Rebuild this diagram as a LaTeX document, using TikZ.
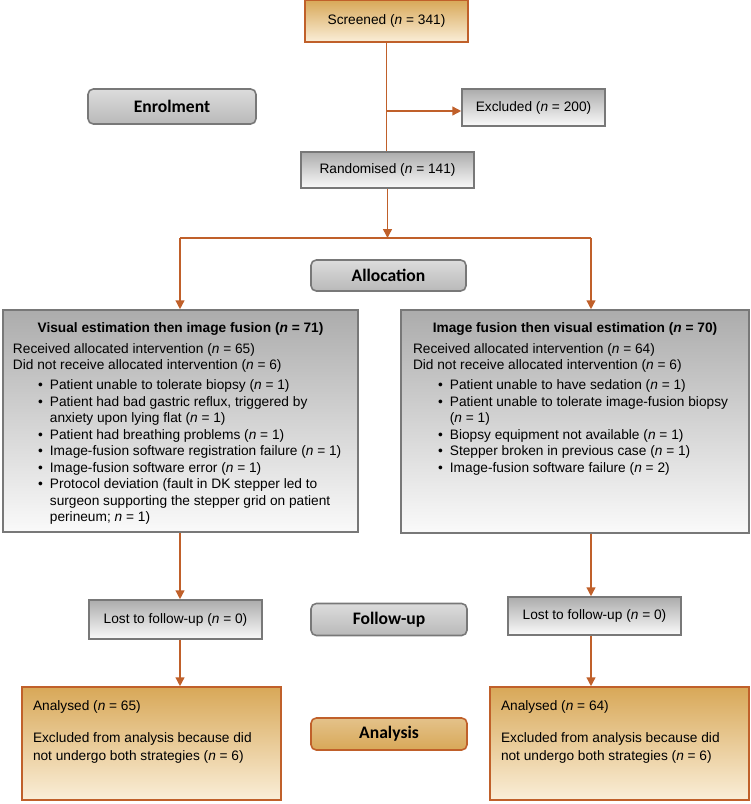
\documentclass[tikz,border=0pt]{standalone}
\usepackage{fontspec}
\setmainfont{Liberation Sans}
\newfontfamily\stagefont{Carlito}
\usetikzlibrary{arrows.meta}

\definecolor{rust}{RGB}{192,96,42}
\definecolor{graytop}{RGB}{172,172,172}
\definecolor{graybot}{RGB}{250,250,250}
\definecolor{grayline}{RGB}{120,120,120}
\definecolor{ambertop}{RGB}{216,168,88}
\definecolor{amberbot}{RGB}{250,238,216}
\definecolor{stagetop}{RGB}{220,220,220}
\definecolor{stagebot}{RGB}{185,185,185}

\newcommand{\nn}{\textit{n}}

\tikzset{
  graybox/.style={draw=grayline, line width=0.9pt, top color=graytop, bottom color=graybot,
                  inner sep=0pt, align=center, font=\fontsize{7.8}{9.4}\selectfont},
  amberbox/.style={draw=rust, line width=0.9pt, top color=ambertop, bottom color=amberbot,
                   inner sep=0pt, align=center, font=\fontsize{7.8}{9.4}\selectfont},
  stagebox/.style={draw=grayline, line width=0.9pt, rounded corners=3pt, top color=stagetop,
                   bottom color=stagebot, minimum width=3.12cm, minimum height=0.64cm,
                   font=\stagefont\bfseries\fontsize{10}{12}\selectfont},
  link/.style={draw=rust, line width=0.8pt},
  arr/.style={link, -{Triangle[length=5pt,width=5pt]}},
}

\begin{document}
\begin{tikzpicture}
    \useasboundingbox (0,0) rectangle (15,-16.08);

    % Enrolment
    \node [amberbox, minimum width=3.26cm, minimum height=0.84cm]
          (screened) at (7.73,-0.42) {Screened (\nn{} = 341)};
    \node [stagebox, minimum width=3.36cm, minimum height=0.70cm]
          (enrol) at (3.44,-2.13) {Enrolment};
    \node [graybox, minimum width=2.86cm, minimum height=0.74cm]
          (excluded) at (10.67,-2.15) {Excluded (\nn{} = 200)};
    \node [graybox, minimum width=3.46cm, minimum height=0.72cm]
          (random) at (7.75,-3.40) {Randomised (\nn{} = 141)};

    % Allocation
    \node [stagebox, minimum width=3.10cm, minimum height=0.62cm]
          (alloc) at (7.77,-5.51) {Allocation};
    \node [graybox, minimum width=7.10cm, minimum height=4.44cm] (visual) at (3.61,-8.42) {%
      \parbox[t][4.44cm][t]{6.70cm}{\vspace*{7pt}%
        {\centering\textbf{Visual estimation then image fusion (\nn{} = 71)}\par}
        \vspace{2.5pt}\raggedright
        Received allocated intervention (\nn{} = 65)\par
        Did not receive allocated intervention (\nn{} = 6)\par
        \begin{list}{\textbullet}{\leftmargin=21pt \labelsep=4pt \topsep=2pt
                                  \itemsep=0pt \parsep=0pt \partopsep=0pt}
          \item Patient unable to tolerate biopsy (\nn{} = 1)
          \item Patient had bad gastric reflux, triggered by anxiety upon lying flat (\nn{} = 1)
          \item Patient had breathing problems (\nn{} = 1)
          \item Image-fusion software registration failure (\nn{} = 1)
          \item Image-fusion software error (\nn{} = 1)
          \item Protocol deviation (fault in DK stepper led to surgeon supporting the stepper grid on patient perineum; \nn{} = 1)
        \end{list}}};
    \node [graybox, minimum width=6.96cm, minimum height=4.46cm] (fusion) at (11.50,-8.43) {%
      \parbox[t][4.46cm][t]{6.48cm}{\vspace*{7pt}%
        {\centering\textbf{Image fusion then visual estimation (\nn{} = 70)}\par}
        \vspace{2.5pt}\raggedright
        Received allocated intervention (\nn{} = 64)\par
        Did not receive allocated intervention (\nn{} = 6)\par
        \begin{list}{\textbullet}{\leftmargin=21pt \labelsep=4pt \topsep=2pt
                                  \itemsep=0pt \parsep=0pt \partopsep=0pt}
          \item Patient unable to have sedation (\nn{} = 1)
          \item Patient unable to tolerate image-fusion biopsy (\nn{} = 1)
          \item Biopsy equipment not available (\nn{} = 1)
          \item Stepper broken in previous case (\nn{} = 1)
          \item Image-fusion software failure (\nn{} = 2)
        \end{list}}};

    % Follow-up
    \node [graybox, minimum width=3.46cm, minimum height=0.78cm]
          (lostL) at (3.51,-12.39) {Lost to follow-up (\nn{} = 0)};
    \node [stagebox] (follow) at (7.78,-12.39) {Follow-up};
    \node [graybox, minimum width=3.46cm, minimum height=0.76cm]
          (lostR) at (11.89,-12.32) {Lost to follow-up (\nn{} = 0)};

    % Analysis
    \node [amberbox, minimum width=5.18cm, minimum height=2.26cm] (anaL) at (3.03,-14.87) {%
      \parbox[t][2.26cm][t]{4.74cm}{\fontsize{7.8}{10.2}\selectfont\vspace*{8pt}\raggedright
        Analysed (\nn{} = 65)\par\vspace{8pt}
        Excluded from analysis because did\newline
        not undergo both strategies (\nn{} = 6)}};
    \node [stagebox, draw=rust, top color=ambertop!70!white, bottom color=ambertop]
          (analysis) at (7.78,-14.68) {Analysis};
    \node [amberbox, minimum width=5.18cm, minimum height=2.26cm] (anaR) at (12.39,-14.87) {%
      \parbox[t][2.26cm][t]{4.74cm}{\fontsize{7.8}{10.2}\selectfont\vspace*{8pt}\raggedright
        Analysed (\nn{} = 64)\par\vspace{8pt}
        Excluded from analysis because did\newline
        not undergo both strategies (\nn{} = 6)}};

    % Connections
    \coordinate (fork) at (7.75,-4.76);
    \coordinate (forkL) at (3.60,-4.76);
    \coordinate (forkR) at (11.82,-4.76);
    \coordinate (split) at (7.73,-2.22);
    \draw [link] (screened.south) -- (screened.south |- random.north);
    \draw [arr] (split) -- (split -| excluded.west);
    \draw [arr] (random.south) -- (fork);
    \draw [link] (forkL) -- (forkR);
    \draw [arr] (forkL) -- (forkL |- visual.north);
    \draw [arr] (forkR) -- (forkR |- fusion.north);
    \draw [arr] (forkL |- visual.south) -- (forkL |- lostL.north);
    \draw [arr] (forkR |- fusion.south) -- (forkR |- lostR.north);
    \draw [arr] (forkL |- lostL.south) -- (forkL |- anaL.north);
    \draw [arr] (forkR |- lostR.south) -- (forkR |- anaR.north);
\end{tikzpicture}
\end{document}
